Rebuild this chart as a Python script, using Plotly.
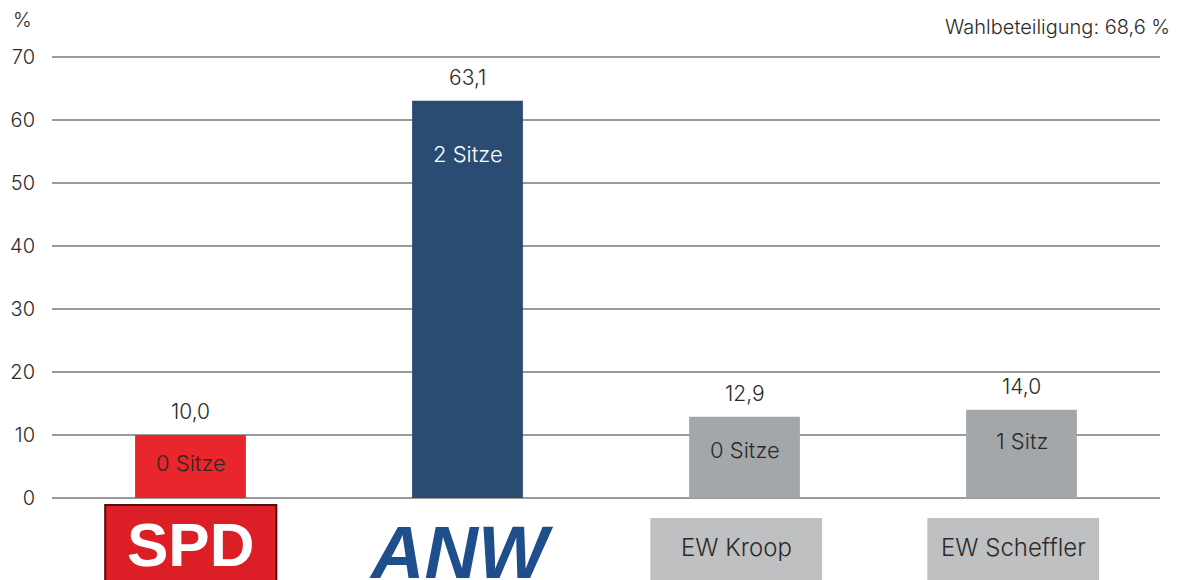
import plotly.graph_objects as go

parties = ["SPD", "ANW", "EW Kroop", "EW Scheffler"]
shares = [10.0, 63.1, 12.9, 14.0]
seats = ["0 Sitze", "2 Sitze", "0 Sitze", "1 Sitz"]
bar_colors = ["#E8262B", "#2A4C73", "#A4A7AA", "#A4A7AA"]
seat_text_colors = ["#2a2a2a", "#ffffff", "#2a2a2a", "#2a2a2a"]
seat_shift = [-28, -53, -33, -31]
y_ticks = [0, 10, 20, 30, 40, 50, 60, 70]
turnout = "Wahlbeteiligung: 68,6 %"

FONT = "Inter"
TXT = "#2b2b2b"
xs = list(range(len(parties)))

fig = go.Figure()
fig.add_trace(go.Bar(x=xs, y=shares, width=0.4, marker=dict(color=bar_colors, line=dict(width=0)),
                     hoverinfo="skip"))

ann = []
for i, (v, s) in enumerate(zip(shares, seats)):
    ann.append(dict(x=i, y=v, xref="x", yref="y", text=f"{v:.1f}".replace(".", ","),
                    showarrow=False, yanchor="bottom", yshift=9,
                    font=dict(family=FONT, size=21, color=TXT, weight=300)))
    ann.append(dict(x=i, y=v, xref="x", yref="y", text=s, showarrow=False,
                    yanchor="middle", yshift=seat_shift[i],
                    font=dict(family=FONT, size=22, color=seat_text_colors[i], weight=300)))

ann.append(dict(x=1, xref="paper", xanchor="right", y=1.0, yref="paper", yanchor="bottom",
                text=turnout, showarrow=False, xshift=12, yshift=15,
                font=dict(family=FONT, size=20, color=TXT, weight=300)))
ann.append(dict(x=0, xref="paper", xanchor="center", y=1.0, yref="paper", yanchor="bottom",
                text="%", showarrow=False, xshift=-30, yshift=22,
                font=dict(family=FONT, size=20, color=TXT, weight=300)))

shapes = []
# SPD logo box
shapes.append(dict(type="rect", xref="x", yref="paper", x0=-0.308, x1=0.31, y0=-0.2, y1=-0.016,
                   fillcolor="#DC1F26", line=dict(color="#5a0c0c", width=2), layer="above"))
ann.append(dict(x=0, y=-0.105, xref="x", yref="paper", yanchor="middle", text="<b>SPD</b>",
                showarrow=False,
                font=dict(family="Liberation Sans", size=62, color="#ffffff")))
# ANW logo
ann.append(dict(x=0.98, y=-0.2, xref="x", yref="paper", yanchor="bottom", text="<b><i>ANW</i></b>",
                showarrow=False, yshift=-10,
                font=dict(family="Liberation Sans", size=74, color="#1F4E8C")))
# grey name boxes
for i in [2, 3]:
    shapes.append(dict(type="rect", xref="x", yref="paper", x0=i - 0.34, x1=i + 0.28,
                       y0=-0.2, y1=-0.045, fillcolor="#BFC0C2", line=dict(width=0), layer="above"))
    ann.append(dict(x=i - 0.03, y=-0.112, xref="x", yref="paper", yanchor="middle",
                    text=parties[i], showarrow=False,
                    font=dict(family=FONT, size=24, color=TXT, weight=300)))

fig.update_layout(
    width=1170, height=572,
    margin=dict(l=44, r=18, t=48, b=82, autoexpand=False),
    paper_bgcolor="white", plot_bgcolor="white",
    showlegend=False,
    annotations=ann, shapes=shapes,
    xaxis=dict(range=[-0.5, 3.5], showticklabels=False, showgrid=False, zeroline=False,
               showline=False, fixedrange=True, automargin=False),
    yaxis=dict(range=[0, 70.2], tickvals=y_ticks, showgrid=True, gridcolor="#9a9a9a",
               gridwidth=1.5, zeroline=True, zerolinecolor="#9a9a9a", zerolinewidth=2,
               showline=False, ticks="", ticklabelstandoff=16, automargin=False,
               tickfont=dict(family=FONT, size=20, color=TXT, weight=300)),
)

fig.write_html("out.html")
